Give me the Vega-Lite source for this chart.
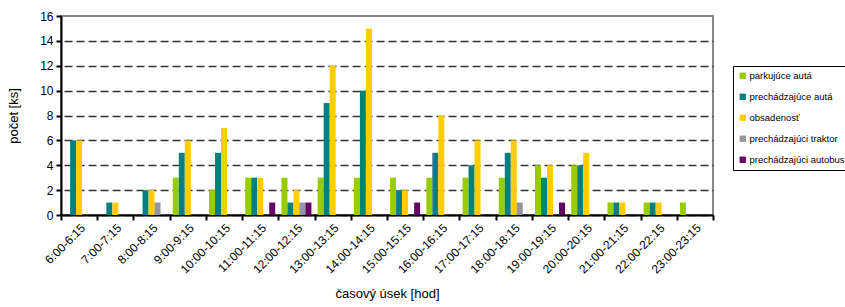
{
  "$schema": "https://vega.github.io/schema/vega-lite/v6.json",
  "width": 652,
  "height": 199,
  "autosize": {"type": "none"},
  "padding": {"left": 61, "top": 16, "right": 132, "bottom": 92},
  "background": "white",
  "config": {"font": "Liberation Sans", "view": {"stroke": "#888888", "strokeWidth": 2}},
  "datasets": {
    "d": [
      {"cas": "6:00-6:15", "serie": "parkujúce autá", "pocet": 0},
      {"cas": "6:00-6:15", "serie": "prechádzajúce autá", "pocet": 6},
      {"cas": "6:00-6:15", "serie": "obsadenosť", "pocet": 6},
      {"cas": "6:00-6:15", "serie": "prechádzajúci traktor", "pocet": 0},
      {"cas": "6:00-6:15", "serie": "prechádzajúci autobus", "pocet": 0},
      {"cas": "7:00-7:15", "serie": "parkujúce autá", "pocet": 0},
      {"cas": "7:00-7:15", "serie": "prechádzajúce autá", "pocet": 1},
      {"cas": "7:00-7:15", "serie": "obsadenosť", "pocet": 1},
      {"cas": "7:00-7:15", "serie": "prechádzajúci traktor", "pocet": 0},
      {"cas": "7:00-7:15", "serie": "prechádzajúci autobus", "pocet": 0},
      {"cas": "8:00-8:15", "serie": "parkujúce autá", "pocet": 0},
      {"cas": "8:00-8:15", "serie": "prechádzajúce autá", "pocet": 2},
      {"cas": "8:00-8:15", "serie": "obsadenosť", "pocet": 2},
      {"cas": "8:00-8:15", "serie": "prechádzajúci traktor", "pocet": 1},
      {"cas": "8:00-8:15", "serie": "prechádzajúci autobus", "pocet": 0},
      {"cas": "9:00-9:15", "serie": "parkujúce autá", "pocet": 3},
      {"cas": "9:00-9:15", "serie": "prechádzajúce autá", "pocet": 5},
      {"cas": "9:00-9:15", "serie": "obsadenosť", "pocet": 6},
      {"cas": "9:00-9:15", "serie": "prechádzajúci traktor", "pocet": 0},
      {"cas": "9:00-9:15", "serie": "prechádzajúci autobus", "pocet": 0},
      {"cas": "10:00-10:15", "serie": "parkujúce autá", "pocet": 2},
      {"cas": "10:00-10:15", "serie": "prechádzajúce autá", "pocet": 5},
      {"cas": "10:00-10:15", "serie": "obsadenosť", "pocet": 7},
      {"cas": "10:00-10:15", "serie": "prechádzajúci traktor", "pocet": 0},
      {"cas": "10:00-10:15", "serie": "prechádzajúci autobus", "pocet": 0},
      {"cas": "11:00-11:15", "serie": "parkujúce autá", "pocet": 3},
      {"cas": "11:00-11:15", "serie": "prechádzajúce autá", "pocet": 3},
      {"cas": "11:00-11:15", "serie": "obsadenosť", "pocet": 3},
      {"cas": "11:00-11:15", "serie": "prechádzajúci traktor", "pocet": 0},
      {"cas": "11:00-11:15", "serie": "prechádzajúci autobus", "pocet": 1},
      {"cas": "12:00-12:15", "serie": "parkujúce autá", "pocet": 3},
      {"cas": "12:00-12:15", "serie": "prechádzajúce autá", "pocet": 1},
      {"cas": "12:00-12:15", "serie": "obsadenosť", "pocet": 2},
      {"cas": "12:00-12:15", "serie": "prechádzajúci traktor", "pocet": 1},
      {"cas": "12:00-12:15", "serie": "prechádzajúci autobus", "pocet": 1},
      {"cas": "13:00-13:15", "serie": "parkujúce autá", "pocet": 3},
      {"cas": "13:00-13:15", "serie": "prechádzajúce autá", "pocet": 9},
      {"cas": "13:00-13:15", "serie": "obsadenosť", "pocet": 12},
      {"cas": "13:00-13:15", "serie": "prechádzajúci traktor", "pocet": 0},
      {"cas": "13:00-13:15", "serie": "prechádzajúci autobus", "pocet": 0},
      {"cas": "14:00-14:15", "serie": "parkujúce autá", "pocet": 3},
      {"cas": "14:00-14:15", "serie": "prechádzajúce autá", "pocet": 10},
      {"cas": "14:00-14:15", "serie": "obsadenosť", "pocet": 15},
      {"cas": "14:00-14:15", "serie": "prechádzajúci traktor", "pocet": 0},
      {"cas": "14:00-14:15", "serie": "prechádzajúci autobus", "pocet": 0},
      {"cas": "15:00-15:15", "serie": "parkujúce autá", "pocet": 3},
      {"cas": "15:00-15:15", "serie": "prechádzajúce autá", "pocet": 2},
      {"cas": "15:00-15:15", "serie": "obsadenosť", "pocet": 2},
      {"cas": "15:00-15:15", "serie": "prechádzajúci traktor", "pocet": 0},
      {"cas": "15:00-15:15", "serie": "prechádzajúci autobus", "pocet": 1},
      {"cas": "16:00-16:15", "serie": "parkujúce autá", "pocet": 3},
      {"cas": "16:00-16:15", "serie": "prechádzajúce autá", "pocet": 5},
      {"cas": "16:00-16:15", "serie": "obsadenosť", "pocet": 8},
      {"cas": "16:00-16:15", "serie": "prechádzajúci traktor", "pocet": 0},
      {"cas": "16:00-16:15", "serie": "prechádzajúci autobus", "pocet": 0},
      {"cas": "17:00-17:15", "serie": "parkujúce autá", "pocet": 3},
      {"cas": "17:00-17:15", "serie": "prechádzajúce autá", "pocet": 4},
      {"cas": "17:00-17:15", "serie": "obsadenosť", "pocet": 6},
      {"cas": "17:00-17:15", "serie": "prechádzajúci traktor", "pocet": 0},
      {"cas": "17:00-17:15", "serie": "prechádzajúci autobus", "pocet": 0},
      {"cas": "18:00-18:15", "serie": "parkujúce autá", "pocet": 3},
      {"cas": "18:00-18:15", "serie": "prechádzajúce autá", "pocet": 5},
      {"cas": "18:00-18:15", "serie": "obsadenosť", "pocet": 6},
      {"cas": "18:00-18:15", "serie": "prechádzajúci traktor", "pocet": 1},
      {"cas": "18:00-18:15", "serie": "prechádzajúci autobus", "pocet": 0},
      {"cas": "19:00-19:15", "serie": "parkujúce autá", "pocet": 4},
      {"cas": "19:00-19:15", "serie": "prechádzajúce autá", "pocet": 3},
      {"cas": "19:00-19:15", "serie": "obsadenosť", "pocet": 4},
      {"cas": "19:00-19:15", "serie": "prechádzajúci traktor", "pocet": 0},
      {"cas": "19:00-19:15", "serie": "prechádzajúci autobus", "pocet": 1},
      {"cas": "20:00-20:15", "serie": "parkujúce autá", "pocet": 4},
      {"cas": "20:00-20:15", "serie": "prechádzajúce autá", "pocet": 4},
      {"cas": "20:00-20:15", "serie": "obsadenosť", "pocet": 5},
      {"cas": "20:00-20:15", "serie": "prechádzajúci traktor", "pocet": 0},
      {"cas": "20:00-20:15", "serie": "prechádzajúci autobus", "pocet": 0},
      {"cas": "21:00-21:15", "serie": "parkujúce autá", "pocet": 1},
      {"cas": "21:00-21:15", "serie": "prechádzajúce autá", "pocet": 1},
      {"cas": "21:00-21:15", "serie": "obsadenosť", "pocet": 1},
      {"cas": "21:00-21:15", "serie": "prechádzajúci traktor", "pocet": 0},
      {"cas": "21:00-21:15", "serie": "prechádzajúci autobus", "pocet": 0},
      {"cas": "22:00-22:15", "serie": "parkujúce autá", "pocet": 1},
      {"cas": "22:00-22:15", "serie": "prechádzajúce autá", "pocet": 1},
      {"cas": "22:00-22:15", "serie": "obsadenosť", "pocet": 1},
      {"cas": "22:00-22:15", "serie": "prechádzajúci traktor", "pocet": 0},
      {"cas": "22:00-22:15", "serie": "prechádzajúci autobus", "pocet": 0},
      {"cas": "23:00-23:15", "serie": "parkujúce autá", "pocet": 1},
      {"cas": "23:00-23:15", "serie": "prechádzajúce autá", "pocet": 0},
      {"cas": "23:00-23:15", "serie": "obsadenosť", "pocet": 0},
      {"cas": "23:00-23:15", "serie": "prechádzajúci traktor", "pocet": 0},
      {"cas": "23:00-23:15", "serie": "prechádzajúci autobus", "pocet": 0}
    ]
  },
  "data": {"name": "d"},
  "mark": {"type": "bar"},
  "encoding": {
    "x": {
      "field": "cas",
      "type": "nominal",
      "sort": null,
      "scale": {"paddingInner": 0, "paddingOuter": 0},
      "axis": {
        "title": "časový úsek [hod]",
        "labelAngle": -45,
        "tickBand": "extent",
        "domainColor": "#000",
        "domainWidth": 2,
        "tickColor": "#000",
        "tickWidth": 2,
        "tickSize": 5,
        "labelFontSize": 12,
        "labelColor": "#000",
        "labelPadding": 2,
        "labelFont": "Liberation Sans",
        "titleFont": "Liberation Sans",
        "titleFontSize": 13,
        "titleFontWeight": "normal",
        "titleColor": "#000",
        "titlePadding": 12
      }
    },
    "xOffset": {
      "field": "serie",
      "type": "nominal",
      "sort": ["parkujúce autá", "prechádzajúce autá", "obsadenosť", "prechádzajúci traktor", "prechádzajúci autobus"],
      "scale": {"paddingInner": 0, "paddingOuter": 0.52}
    },
    "y": {
      "field": "pocet",
      "type": "quantitative",
      "scale": {"domain": [0, 16], "nice": false},
      "axis": {
        "values": [0, 2, 4, 6, 8, 10, 12, 14, 16],
        "title": "počet [ks]",
        "grid": true,
        "gridDash": [8, 4],
        "gridDashOffset": -3,
        "gridColor": "#333333",
        "gridWidth": 1.3,
        "gridOpacity": {"condition": {"test": "datum.value >= 16", "value": 0}, "value": 1},
        "domainColor": "#000",
        "domainWidth": 2,
        "tickColor": "#000",
        "tickWidth": 2,
        "tickSize": 5,
        "labelFontSize": 12,
        "labelColor": "#000",
        "labelPadding": 3,
        "labelFont": "Liberation Sans",
        "titleFont": "Liberation Sans",
        "titleFontSize": 13,
        "titleFontWeight": "normal",
        "titleColor": "#000",
        "titlePadding": 19
      }
    },
    "color": {
      "field": "serie",
      "type": "nominal",
      "scale": {
        "domain": ["parkujúce autá", "prechádzajúce autá", "obsadenosť", "prechádzajúci traktor", "prechádzajúci autobus"],
        "range": ["#99CC00", "#008080", "#FFCC00", "#969696", "#660066"]
      },
      "legend": {
        "title": null,
        "orient": "none",
        "legendX": 672,
        "legendY": 50,
        "strokeColor": "#000",
        "padding": 5,
        "symbolType": "square",
        "symbolSize": 40,
        "symbolStrokeWidth": 0,
        "symbolOpacity": 1,
        "labelFontSize": 9.5,
        "labelFont": "Liberation Sans",
        "labelColor": "#000",
        "labelOffset": 2,
        "labelLimit": 200,
        "rowPadding": 10
      }
    }
  }
}
